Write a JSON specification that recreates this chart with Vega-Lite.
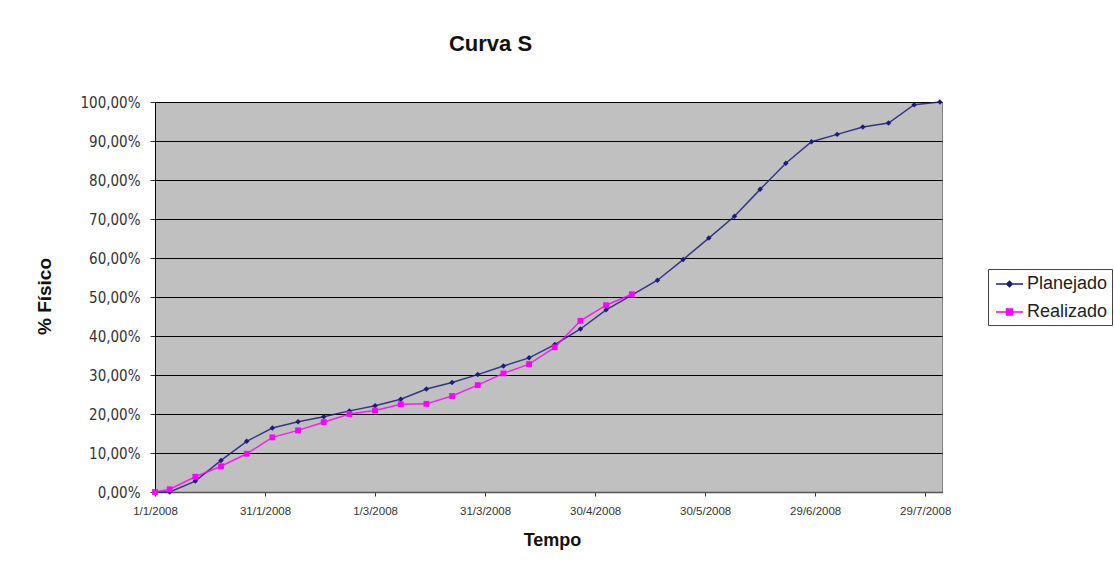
{
  "$schema": "https://vega.github.io/schema/vega-lite/v6.json",
  "width": 787,
  "height": 390,
  "autosize": {"type": "none"},
  "padding": {"left": 155, "top": 102, "right": 172, "bottom": 72},
  "background": "white",
  "config": {
    "locale": {"number": {"decimal": ",", "thousands": ".", "grouping": [3], "currency": ["R$", ""]}},
    "font": "Liberation Sans",
    "view": {"fill": "#c0c0c0", "stroke": "#808080", "strokeWidth": 1}
  },
  "title": {
    "text": "Curva S",
    "font": "Liberation Sans",
    "fontSize": 22,
    "fontWeight": "bold",
    "color": "#111",
    "anchor": "middle",
    "dx": -58,
    "offset": 39
  },
  "data": {
    "values": [
      {"data": "2008-01-01", "serie": "Planejado", "valor": 0},
      {"data": "2008-01-05", "serie": "Planejado", "valor": 0},
      {"data": "2008-01-12", "serie": "Planejado", "valor": 0.028},
      {"data": "2008-01-19", "serie": "Planejado", "valor": 0.081},
      {"data": "2008-01-26", "serie": "Planejado", "valor": 0.130},
      {"data": "2008-02-02", "serie": "Planejado", "valor": 0.164},
      {"data": "2008-02-09", "serie": "Planejado", "valor": 0.180},
      {"data": "2008-02-16", "serie": "Planejado", "valor": 0.193},
      {"data": "2008-02-23", "serie": "Planejado", "valor": 0.208},
      {"data": "2008-03-01", "serie": "Planejado", "valor": 0.221},
      {"data": "2008-03-08", "serie": "Planejado", "valor": 0.238},
      {"data": "2008-03-15", "serie": "Planejado", "valor": 0.264},
      {"data": "2008-03-22", "serie": "Planejado", "valor": 0.281},
      {"data": "2008-03-29", "serie": "Planejado", "valor": 0.301},
      {"data": "2008-04-05", "serie": "Planejado", "valor": 0.323},
      {"data": "2008-04-12", "serie": "Planejado", "valor": 0.344},
      {"data": "2008-04-19", "serie": "Planejado", "valor": 0.378},
      {"data": "2008-04-26", "serie": "Planejado", "valor": 0.418},
      {"data": "2008-05-03", "serie": "Planejado", "valor": 0.467},
      {"data": "2008-05-10", "serie": "Planejado", "valor": 0.505},
      {"data": "2008-05-17", "serie": "Planejado", "valor": 0.543},
      {"data": "2008-05-24", "serie": "Planejado", "valor": 0.596},
      {"data": "2008-05-31", "serie": "Planejado", "valor": 0.651},
      {"data": "2008-06-07", "serie": "Planejado", "valor": 0.707},
      {"data": "2008-06-14", "serie": "Planejado", "valor": 0.776},
      {"data": "2008-06-21", "serie": "Planejado", "valor": 0.843},
      {"data": "2008-06-28", "serie": "Planejado", "valor": 0.898},
      {"data": "2008-07-05", "serie": "Planejado", "valor": 0.917},
      {"data": "2008-07-12", "serie": "Planejado", "valor": 0.936},
      {"data": "2008-07-19", "serie": "Planejado", "valor": 0.946},
      {"data": "2008-07-26", "serie": "Planejado", "valor": 0.993},
      {"data": "2008-08-02", "serie": "Planejado", "valor": 1.0},
      {"data": "2008-01-01", "serie": "Realizado", "valor": 0},
      {"data": "2008-01-05", "serie": "Realizado", "valor": 0.007},
      {"data": "2008-01-12", "serie": "Realizado", "valor": 0.039},
      {"data": "2008-01-19", "serie": "Realizado", "valor": 0.066},
      {"data": "2008-01-26", "serie": "Realizado", "valor": 0.098},
      {"data": "2008-02-02", "serie": "Realizado", "valor": 0.140},
      {"data": "2008-02-09", "serie": "Realizado", "valor": 0.158},
      {"data": "2008-02-16", "serie": "Realizado", "valor": 0.179},
      {"data": "2008-02-23", "serie": "Realizado", "valor": 0.200},
      {"data": "2008-03-01", "serie": "Realizado", "valor": 0.209},
      {"data": "2008-03-08", "serie": "Realizado", "valor": 0.225},
      {"data": "2008-03-15", "serie": "Realizado", "valor": 0.226},
      {"data": "2008-03-22", "serie": "Realizado", "valor": 0.246},
      {"data": "2008-03-29", "serie": "Realizado", "valor": 0.274},
      {"data": "2008-04-05", "serie": "Realizado", "valor": 0.304},
      {"data": "2008-04-12", "serie": "Realizado", "valor": 0.328},
      {"data": "2008-04-19", "serie": "Realizado", "valor": 0.371},
      {"data": "2008-04-26", "serie": "Realizado", "valor": 0.439},
      {"data": "2008-05-03", "serie": "Realizado", "valor": 0.479},
      {"data": "2008-05-10", "serie": "Realizado", "valor": 0.507}
    ]
  },
  "encoding": {
    "x": {
      "field": "data",
      "type": "temporal",
      "title": "Tempo",
      "scale": {
        "type": "utc",
        "domain": [
          {"year": 2008, "month": 1, "date": 1, "utc": true},
          {"year": 2008, "month": 8, "date": 2, "hours": 14, "utc": true}
        ]
      },
      "axis": {
        "values": [
          {"year": 2008, "month": 1, "date": 1, "utc": true},
          {"year": 2008, "month": 1, "date": 31, "utc": true},
          {"year": 2008, "month": 3, "date": 1, "utc": true},
          {"year": 2008, "month": 3, "date": 31, "utc": true},
          {"year": 2008, "month": 4, "date": 30, "utc": true},
          {"year": 2008, "month": 5, "date": 30, "utc": true},
          {"year": 2008, "month": 6, "date": 29, "utc": true},
          {"year": 2008, "month": 7, "date": 29, "utc": true}
        ],
        "labelExpr": "utcFormat(datum.value, '%-d/%-m/%Y')",
        "grid": false,
        "domainColor": "#555",
        "domainWidth": 1.5,
        "tickColor": "#333",
        "tickSize": 4,
        "labelFontSize": 11.5,
        "labelColor": "#333",
        "labelPadding": 9,
        "labelFlush": false,
        "labelOverlap": false,
        "titleFontSize": 18,
        "titleFontWeight": "bold",
        "titleColor": "#111",
        "titleX": 397,
        "titleY": 48,
        "titleBaseline": "middle",
        "titleAlign": "center"
      }
    },
    "y": {
      "field": "valor",
      "type": "quantitative",
      "title": "% Físico",
      "scale": {"domain": [0, 1], "nice": false},
      "axis": {
        "values": [0, 0.1, 0.2, 0.3, 0.4, 0.5, 0.6, 0.7, 0.8, 0.9, 1.0],
        "format": ".2%",
        "grid": true,
        "gridColor": "#000",
        "gridWidth": 1.2,
        "domainColor": "#000",
        "domainWidth": 1,
        "tickColor": "#333",
        "tickSize": 5,
        "labelFont": "DejaVu Sans Condensed, Liberation Sans",
        "labelFontSize": 15,
        "labelColor": "#333",
        "labelPadding": 10,
        "titleFontSize": 19,
        "titleFontWeight": "bold",
        "titleColor": "#111",
        "titleAngle": -90,
        "titleX": -111,
        "titleY": 194,
        "titleAlign": "center",
        "titleBaseline": "middle"
      }
    }
  },
  "layer": [
    {
      "mark": {"type": "line", "strokeWidth": 1.5, "strokeOpacity": 0.85},
      "encoding": {
        "color": {
          "field": "serie",
          "type": "nominal",
          "title": null,
          "scale": {"domain": ["Planejado", "Realizado"], "range": ["#1c1c80", "#ff00ff"]},
          "legend": {
            "orient": "none",
            "legendX": 833,
            "legendY": 167,
            "title": null,
            "strokeColor": "#444",
            "fillColor": "white",
            "padding": 4,
            "rowPadding": 8,
            "labelFontSize": 18,
            "labelColor": "#222",
            "labelOffset": 13,
            "symbolSize": 400,
            "symbolStrokeWidth": 1.5,
            "encode": {
              "symbols": {
                "update": {
                  "shape": {"signal": "datum.value == 'Planejado' ? 'M-0.7,0H2M0.65,-0.28L0.93,0L0.65,0.28L0.37,0Z' : 'M-0.7,0H2M0.35,-0.3H0.95V0.3H0.35Z'"},
                  "fill": {"scale": "color", "field": "value"},
                  "stroke": {"scale": "color", "field": "value"}
                }
              }
            }
          }
        }
      }
    },
    {
      "mark": {"type": "point", "filled": true, "opacity": 1},
      "encoding": {
        "color": {"field": "serie", "type": "nominal", "legend": null},
        "shape": {
          "field": "serie",
          "type": "nominal",
          "scale": {"domain": ["Planejado", "Realizado"], "range": ["diamond", "square"]},
          "legend": null
        },
        "size": {
          "field": "serie",
          "type": "nominal",
          "scale": {"domain": ["Planejado", "Realizado"], "range": [30, 34]},
          "legend": null
        }
      }
    }
  ],
  "resolve": {"legend": {"color": "independent"}}
}
